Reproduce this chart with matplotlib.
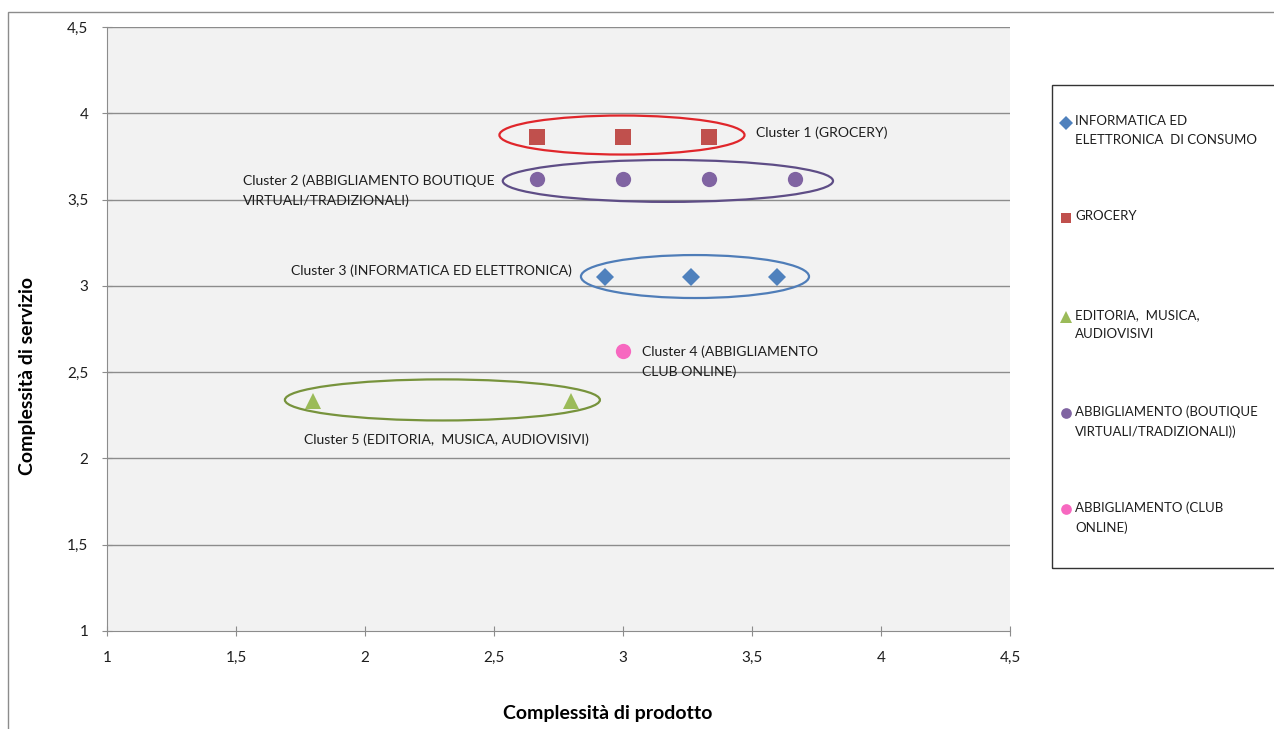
import matplotlib.pyplot as plt
from matplotlib.patches import Ellipse, Rectangle
from matplotlib.lines import Line2D

plt.rcParams['font.family'] = ['Lato', 'DejaVu Sans']

# Dati (complessita di prodotto, complessita di servizio)
info_x = [2.93, 3.265, 3.597]
info_y = [3.05, 3.05, 3.05]
grocery_x = [2.667, 3.0, 3.333]
grocery_y = [3.86, 3.86, 3.86]
editoria_x = [1.8, 2.8]
editoria_y = [2.33, 2.33]
boutique_x = [2.667, 3.0, 3.333, 3.667]
boutique_y = [3.62, 3.62, 3.62, 3.62]
club_x = [3.0]
club_y = [2.62]

serie = [
    ('INFORMATICA ED\nELETTRONICA  DI CONSUMO', info_x, info_y, 'D', '#4F81BD', 9.5),
    ('GROCERY', grocery_x, grocery_y, 's', '#C0504D', 11),
    ('EDITORIA,  MUSICA,\nAUDIOVISIVI', editoria_x, editoria_y, '^', '#9BBB59', 12),
    ('ABBIGLIAMENTO (BOUTIQUE\nVIRTUALI/TRADIZIONALI))', boutique_x, boutique_y, 'o', '#8064A2', 11),
    ('ABBIGLIAMENTO (CLUB\nONLINE)', club_x, club_y, 'o', '#F768C0', 11),
]

# ellissi dei cluster: centro x, centro y, larghezza, altezza, colore
ellissi = [
    (2.996, 3.874, 0.95, 0.226, '#E0262B'),
    (3.174, 3.608, 1.28, 0.243, '#5E4D86'),
    (3.279, 3.054, 0.884, 0.249, '#4F7DB8'),
    (2.30, 2.339, 1.221, 0.238, '#77933C'),
]

etichette = [
    (3.516, 3.886, 'Cluster 1 (GROCERY)'),
    (1.527, 3.55, 'Cluster 2 (ABBIGLIAMENTO BOUTIQUE\nVIRTUALI/TRADIZIONALI)'),
    (1.713, 3.086, 'Cluster 3 (INFORMATICA ED ELETTRONICA)'),
    (3.074, 2.562, 'Cluster 4 (ABBIGLIAMENTO\nCLUB ONLINE)'),
    (1.764, 2.107, 'Cluster 5 (EDITORIA,  MUSICA, AUDIOVISIVI)'),
]

fig = plt.figure(figsize=(12.74, 7.29), dpi=100)
W, H = 1274, 729
ax = fig.add_axes([107 / W, 1 - 631 / H, (1010 - 107) / W, (631 - 27) / H])
ax.set_facecolor('#F2F2F2')

for y in [1.5, 2, 2.5, 3, 3.5, 4, 4.5]:
    ax.axhline(y, color='#8C8C8C', lw=1, zorder=1)

for cx, cy, w, h, c in ellissi:
    ax.add_patch(Ellipse((cx, cy), w, h, fill=False, edgecolor=c, lw=1.6, zorder=2))

for lab, xs, ys, m, c, ms in serie:
    ax.plot(xs, ys, linestyle='none', marker=m, color=c, markersize=ms,
            markeredgewidth=0, zorder=3)

for x, y, t in etichette:
    ax.text(x, y, t, fontsize=10.1, va='center', ha='left', color='#1E1E1E',
            linespacing=1.7, zorder=4)

ax.set_xlim(1, 4.5)
ax.set_ylim(1, 4.5)
ticks = [1, 1.5, 2, 2.5, 3, 3.5, 4, 4.5]
tick_lab = [str(t).replace('.', ',') if t != int(t) else str(int(t)) for t in ticks]
ax.set_xticks(ticks)
ax.set_xticklabels(tick_lab)
ax.set_yticks(ticks)
ax.set_yticklabels(tick_lab)
ax.tick_params(direction='inout', length=7, color='#8C8C8C', labelsize=11,
               labelcolor='#1E1E1E')
ax.tick_params(axis='x', pad=11)
ax.tick_params(axis='y', pad=10)
for s in ['top', 'right']:
    ax.spines[s].set_visible(False)
for s in ['left', 'bottom']:
    ax.spines[s].set_color('#8C8C8C')

fig.text(608 / W, 1 - 713 / H, 'Complessità di prodotto', fontsize=14,
         fontweight='bold', ha='center', va='center')
fig.text(28 / W, 1 - 376 / H, 'Complessità di servizio', fontsize=14,
         fontweight='bold', ha='center', va='center', rotation=90)

# cornice esterna del grafico
fig.add_artist(Rectangle((8 / W, -0.05), 1.2, 1 - 12 / H + 0.05, transform=fig.transFigure,
                         fill=False, edgecolor='#8C8C8C', lw=1))

# legenda disegnata a mano
fig.add_artist(Rectangle((1052 / W, 1 - 568 / H), 1.0, (568 - 85) / H,
                         transform=fig.transFigure, fill=False, edgecolor='#333333', lw=1))
leg_y = [123, 218, 317, 413, 509]
for (lab, xs, ys, m, c, ms), py in zip(serie, leg_y):
    fig.add_artist(Line2D([1066 / W], [1 - py / H], marker=m, color=c,
                          markersize=ms * 0.7, markeredgewidth=0, linestyle='none',
                          transform=fig.transFigure))
    fig.text(1075 / W, 1 - (py - 8) / H, lab, fontsize=9.5, va='top', ha='left',
             color='#1E1E1E', linespacing=1.75)

fig.savefig('out.png', dpi=100)
